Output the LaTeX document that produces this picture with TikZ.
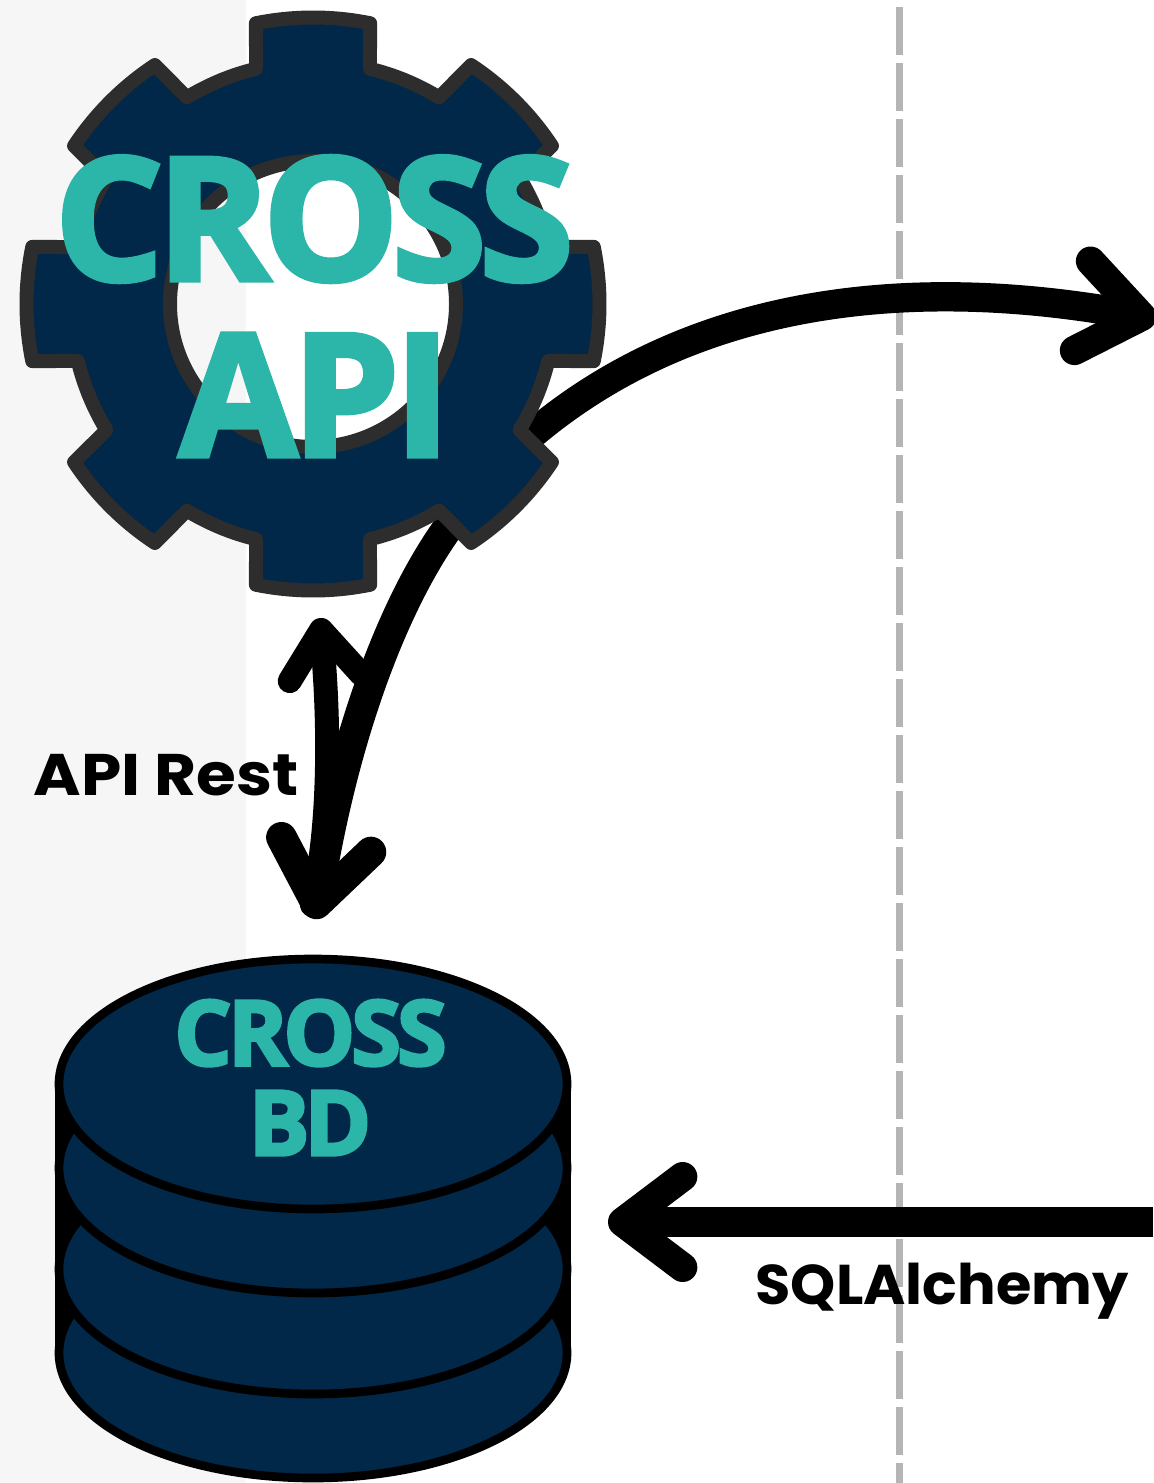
\documentclass[tikz,border=0pt]{standalone}
\usepackage{fontspec}
\usetikzlibrary{arrows.meta}
\newfontfamily\crossfont{Open Sans}
\newfontfamily\labelfont{Poppins}
\definecolor{navy}{HTML}{012749}
\definecolor{teal2}{HTML}{2CB5A9}
\definecolor{gearline}{HTML}{2D2D2D}
\definecolor{strip}{HTML}{F6F6F6}
\definecolor{dashgray}{HTML}{B5B5B5}
\tikzset{
  px/.style={x=0.75pt,y=-0.75pt},
  flow/.style={draw=black,line width=22pt,line cap=round,line join=round},
  headA/.style={-{Straight Barb[round,length=45pt,width=68pt]}},
  disk/.style={draw=black,fill=navy,line width=6.5pt},
  title/.style={text=teal2,inner sep=0pt},
  tag/.style={text=black,inner sep=0pt}
}
\begin{document}
\begin{tikzpicture}[px]
\useasboundingbox (0,0) rectangle (1153,1483);
\fill[white] (0,0) rectangle (1153,1483);
\fill[strip] (0,0) rectangle (246,1483);
\draw[dashgray,line width=5.75pt,dash pattern=on 35.75pt off 6.25pt] (899.5,7) -- (899.5,1483);
% named ends
\coordinate (gearE) at (535,432);
\coordinate (gearS) at (450,525);
\coordinate (right1) at (1156,319);
\coordinate (dbtop) at (314,919);
\coordinate (dbtopb) at (312,905);
\coordinate (apitip) at (320,618);
\coordinate (rightDB) at (1153,1222);
\coordinate (dbE) at (608,1222);
% connectors
\draw[flow,headA] (gearE) .. controls (690,303) and (900,273) .. (right1);
\draw[flow,line width=23pt,headA] (gearS) .. controls (395,600) and (345,730) .. (dbtop);
\draw[flow,line width=18pt,-{Straight Barb[round,length=36pt,width=54pt]}] (dbtopb) .. controls (330,830) and (330,725) .. (apitip);
\draw[flow,line cap=butt,headA] (rightDB) -- (dbE);
% gear
\def\ro{286.5}\def\rb{242}
\path[fill=navy,draw=gearline,line width=10.5pt,line join=round,even odd rule,shift={(313,304)}]
  (0,0) circle[radius=143]
  (0-13.6:\rb)
  \foreach \a in {0,45,...,315}{
    -- (\a-13.6:\rb) -- (\a-11.5:\ro) arc[start angle=\a-11.5,end angle=\a+11.5,radius=\ro]
    -- (\a+13.6:\rb) arc[start angle=\a+13.6,end angle=\a+45-13.6,radius=\rb]
  } -- cycle;
% texts
\node[title,font=\crossfont\bfseries\fontsize{128}{128}\selectfont\addfontfeature{FakeBold=3,LetterSpace=-3.9}] (crossapi1) at (314,219) {CROSS};
\node[title,font=\crossfont\bfseries\fontsize{128}{128}\selectfont\addfontfeature{FakeBold=3,LetterSpace=-3}] (crossapi2) at (315,395) {API};
% database
\fill[black] (55,1084) rectangle (571,1353);
\draw[disk] (313,1353) ellipse[x radius=254,y radius=125];
\draw[disk] (313,1269) ellipse[x radius=254,y radius=125];
\draw[disk] (313,1168) ellipse[x radius=254,y radius=125];
\draw[disk] (313,1084) ellipse[x radius=254,y radius=125];
\node[title,font=\crossfont\bfseries\fontsize{68}{68}\selectfont\addfontfeature{FakeBold=3,LetterSpace=-4.7}] (crossbd1) at (310.5,1033) {CROSS};
\node[title,font=\crossfont\bfseries\fontsize{68}{68}\selectfont\addfontfeature{FakeBold=3,LetterSpace=-6}] (crossbd2) at (310,1123) {BD};
\node[tag,font=\labelfont\bfseries\fontsize{44}{44}\selectfont] (apirest) at (166,775) {\scalebox{1.1}[1]{API Rest}};
\node[tag,font=\labelfont\bfseries\fontsize{42}{42}\selectfont] (sqla) at (942,1291) {\scalebox{1.025}[1]{SQLAlchemy}};
\end{tikzpicture}
\end{document}
